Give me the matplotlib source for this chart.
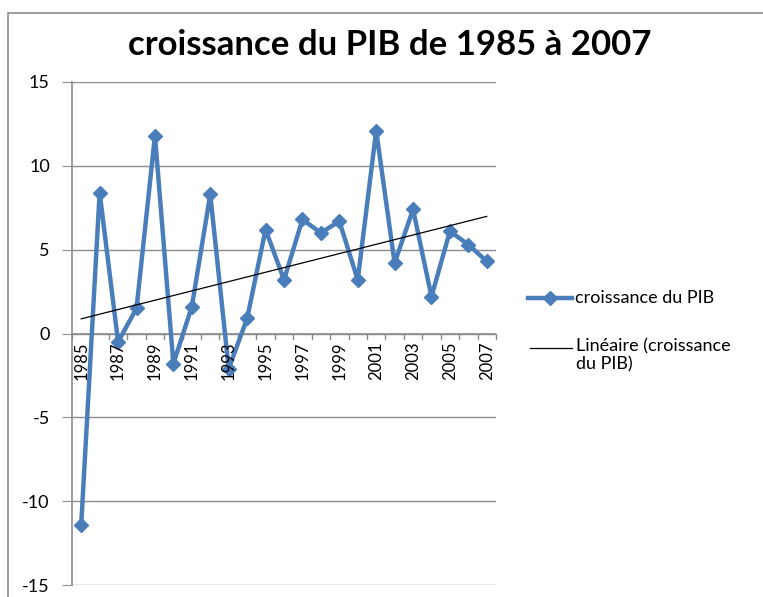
import matplotlib; matplotlib.use("Agg"); import matplotlib.pyplot as plt
import numpy as np
from matplotlib.lines import Line2D
from matplotlib.patches import Rectangle

years = list(range(1985, 2008))
pib = [-11.4, 8.4, -0.5, 1.5, 11.8, -1.8, 1.6, 8.3, -2.1, 0.9, 6.2, 3.2,
       6.8, 6.0, 6.7, 3.2, 12.1, 4.2, 7.4, 2.2, 6.1, 5.3, 4.3]
xlabels = [str(y) if (y - 1985) % 2 == 0 else "" for y in years]
series_name = "croissance du PIB"
trend_name = "Linéaire (croissance\ndu PIB)"

plt.rcParams['font.family'] = ['Lato', 'DejaVu Sans']
plt.rcParams['axes.unicode_minus'] = False
blue = "#4a7ebb"; grid = "#8c8c8c"

fig = plt.figure(figsize=(7.63, 5.97), dpi=100)
fig.patches.append(Rectangle((8/763, -0.1), 1.1, 1 - 13/597 + 0.1, transform=fig.transFigure,
                             fill=False, ec="#8c8c8c", lw=1.2))
ax = fig.add_axes([72/763, 12/597, (496-72)/763, (585-82)/597])

x = np.arange(len(years))
ax.plot(x, pib, color=blue, lw=3.2, marker="D", ms=7, zorder=3)
k, b = np.polyfit(x, pib, 1)
ax.plot(x, k*x + b, color="black", lw=0.9, zorder=4)

ax.set_xlim(-0.5, len(years) - 0.5); ax.set_ylim(-15, 15)
ax.set_yticks(range(-15, 16, 5))
ax.yaxis.grid(True, color=grid, lw=1); ax.set_axisbelow(True)
for s in ["top", "right", "bottom"]: ax.spines[s].set_visible(False)
ax.spines["left"].set_color(grid); ax.spines["left"].set_linewidth(1.2)
ax.tick_params(axis="y", length=7, color=grid, labelsize=13, pad=9)

# category axis at y=0, Excel style
ax.axhline(0, color=grid, lw=1.2, zorder=2)
ax.set_xticks([])
for i in range(len(years) + 1):
    ax.plot([i - 0.5, i - 0.5], [0, -0.35], color=grid, lw=1, clip_on=False, zorder=2)
for i, lab in enumerate(xlabels):
    if lab:
        ax.text(i, -0.5, lab, rotation=90, ha="center", va="top", fontsize=12, zorder=5)

fig.text(390/763, 1 - 45/597, "croissance du PIB de 1985 à 2007", ha="center", va="center",
         fontsize=25, fontweight="bold")

# legend, drawn by hand
def fy(py): return 1 - py/597
def fx(px): return px/763
fig.add_artist(Line2D([fx(528), fx(572)], [fy(298)]*2, color=blue, lw=3.2))
fig.add_artist(Line2D([fx(550)], [fy(298)], color=blue, marker="D", ms=7))
fig.text(fx(575), fy(298), series_name, va="center", fontsize=13)
fig.add_artist(Line2D([fx(530), fx(572)], [fy(348)]*2, color="black", lw=0.9))
fig.text(fx(576), fy(338), trend_name, va="top", fontsize=13, linespacing=1.2)

fig.savefig("out.png", dpi=100)
